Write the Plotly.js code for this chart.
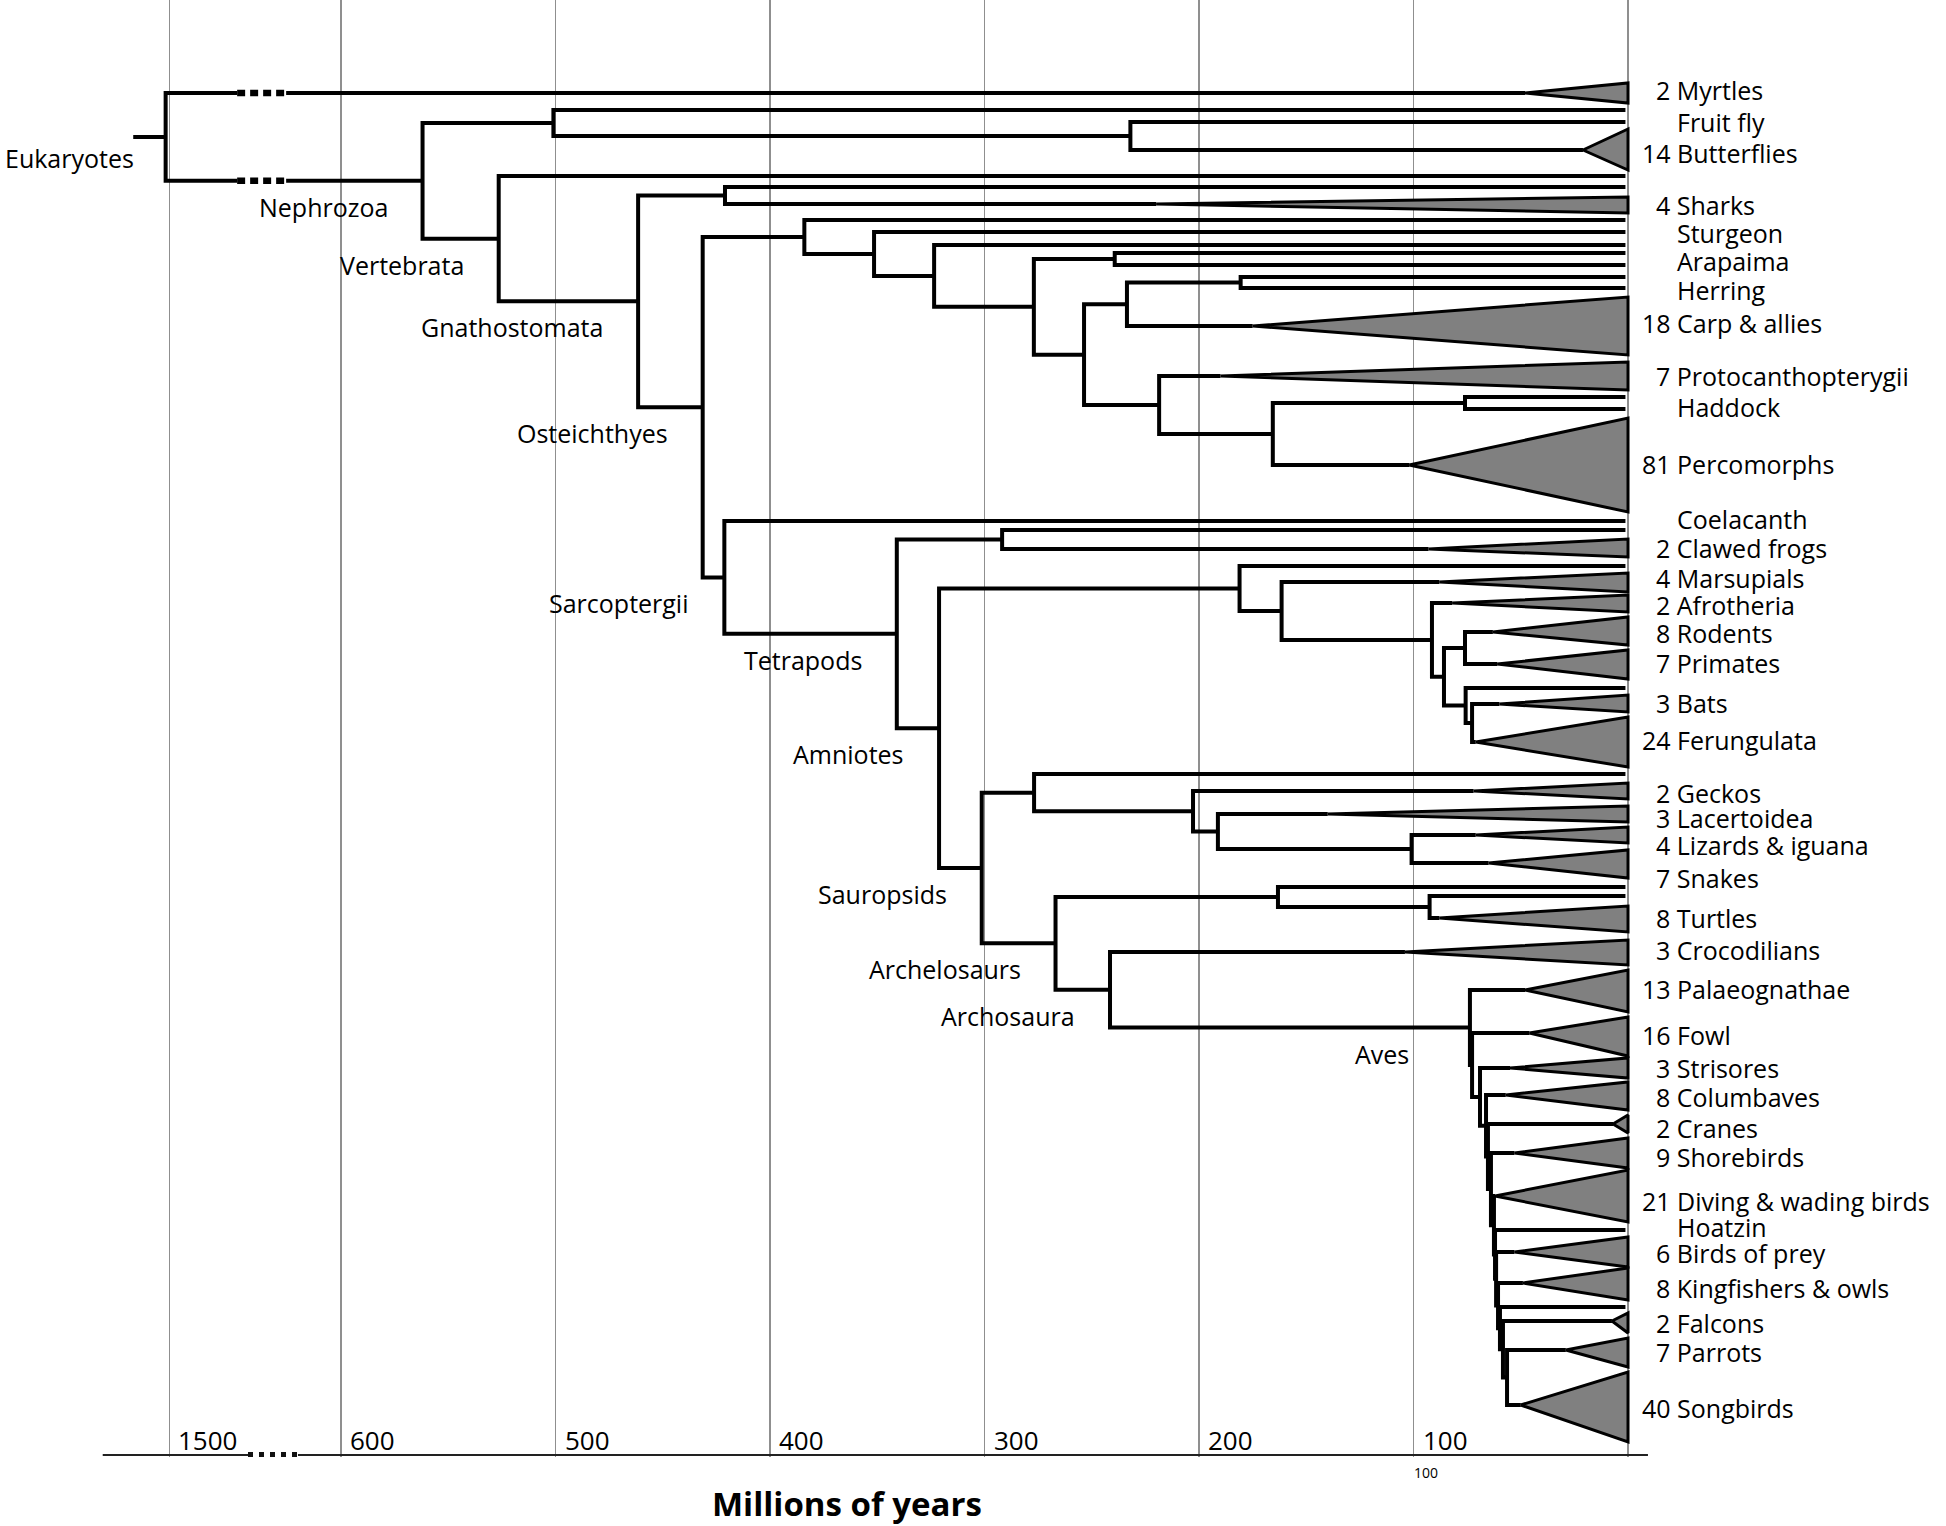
<!DOCTYPE html>
<html><head><meta charset="utf-8">
<script src="https://cdn.plot.ly/plotly-3.0.1.min.js"></script>
<style>html,body{margin:0;padding:0;background:#fff}</style>
</head><body><div id="chart" style="width:1946px;height:1526px"></div>
<script>
// ---------------- DATA ----------------
const tipIds = ['t01','t02','t03','t04','t05','t06','t07','t08','t09','t10','t11','t12','t13','t14','t15','t16','t17','t18','t19','t20','t21','t22','t23','t24','t25','t26','t27','t28','t29','t30','t31','t32','t33','t34','t35','t36','t37','t38','t39','t40','t41','t42','t43','t44','t45','t46','t47','t48','t49','t50','t51','t52','t53'];
const tipNames = ['Myrtles','','Fruit fly','Butterflies','','','Sharks','','Sturgeon','','','Arapaima','','Herring','Carp & allies','Protocanthopterygii','','Haddock','Percomorphs','Coelacanth','','Clawed frogs','','Marsupials','Afrotheria','Rodents','Primates','','Bats','Ferungulata','','Geckos','Lacertoidea','Lizards & iguana','Snakes','','','Turtles','Crocodilians','Palaeognathae','Fowl','Strisores','Columbaves','Cranes','Shorebirds','Diving & wading birds','Hoatzin','Birds of prey','Kingfishers & owls','','Falcons','Parrots','Songbirds'];
const tipCounts = [2,null,null,14,null,null,4,null,null,null,null,null,null,null,18,7,null,null,81,null,null,2,null,4,2,8,7,null,3,24,null,2,3,4,7,null,null,8,3,13,16,3,8,2,9,21,null,6,8,null,2,7,40];
// row of each tip (vertical order in the figure)
const tipRows = [93,110,122,150,176,187,204,220,232,245,253,265,277,288,326,376,397,409,465,521,530,549,566,582,603,632,664,688,704,742,774,791,814,835,863,887,896,918,952,990,1033,1068,1095,1124,1153,1196,1230,1252,1283,1307,1321,1350,1405];
const labelRows = [90,null,122,153,null,null,205,null,233,null,null,261,null,290,323,376,null,407,464,519,null,548,null,578,605,633,663,null,703,740,null,793,818,845,878,null,null,918,950,989,1035,1068,1097,1128,1157,1201,1227,1253,1288,null,1323,1352,1408];
// crown age (Myr) of collapsed clades (triangles); null = single lineage
const crownAges = [48,null,null,21,null,null,220,null,null,null,null,null,null,null,175,190,null,null,102,null,null,93,null,88,82,63,61,null,60,71,null,72,140,71,65,null,null,88,104,48,46,55,57,7,53,62,null,53,49,null,7.5,29,50];
const wedgeTopRows = [83,null,null,129,null,null,197,null,null,null,null,null,null,null,297,362,null,null,418,null,null,539,null,573,595,617,650,null,695,717,null,783,806,827,850,null,null,906,940,970,1017,1058,1082,1115,1138,1170,null,1237,1268,null,1313,1338,1372];
const wedgeBottomRows = [103,null,null,170,null,null,213,null,null,null,null,null,null,null,355,390,null,null,512,null,null,557,null,592,612,645,679,null,712,767,null,799,822,843,878,null,null,932,965,1012,1056,1078,1110,1133,1168,1222,null,1267,1300,null,1333,1367,1442];

const nodeIds = ['root','Nephrozoa','Protostomia','Insecta','Vertebrata','Gnathostomata','Chondrichthyes','Osteichthyes','Actinopterygii','Actinopteri','Neopterygii','Teleostei','Osteoglossomorpha','Clupeocephala','Otomorpha','Clupeiformes','Euteleostei','Neoteleostei','Gadiformes','Sarcopterygii','Tetrapoda','Amphibia','Amniota','Mammalia','Theria','Placentalia','Boreoeutheria','Euarchontoglires','Laurasiatheria','Scrotifera','Sauropsida','Lepidosauria','Squamata','Episquamata','Toxicofera','Archelosauria','Testudines','Cryptodira','Archosauria','Aves','Neognathae','Neoaves','N2','N3','N4','N5','N6','N7','N8','N9','N10','N11'];
const nodeAges = [1520,562,501,232,526.5,461.5,421,431.4,384,351.5,323.5,277,239.3,253.6,233.6,180.6,218.6,165.6,76,421.3,340.9,291.8,321.2,181.1,161.5,91.4,85.8,76,75.7,72.7,301.3,276.9,202.8,191.2,100.9,266.9,163.2,92.5,241.5,73.7,72.7,69.0,66.2,65.3,63.9,62.5,62.0,61.5,60.6,59.7,58.3,56.4];
const nodeChildren = [
 ['t01','Nephrozoa'],['Protostomia','Vertebrata'],['t02','Insecta'],['t03','t04'],['t05','Gnathostomata'],
 ['Chondrichthyes','Osteichthyes'],['t06','t07'],['Actinopterygii','Sarcopterygii'],['t08','Actinopteri'],['t09','Neopterygii'],
 ['t10','Teleostei'],['Osteoglossomorpha','Clupeocephala'],['t11','t12'],['Otomorpha','Euteleostei'],['Clupeiformes','t15'],
 ['t13','t14'],['t16','Neoteleostei'],['Gadiformes','t19'],['t17','t18'],['t20','Tetrapoda'],
 ['Amphibia','Amniota'],['t21','t22'],['Mammalia','Sauropsida'],['t23','Theria'],['t24','Placentalia'],
 ['t25','Boreoeutheria'],['Euarchontoglires','Laurasiatheria'],['t26','t27'],['t28','Scrotifera'],['t29','t30'],
 ['Lepidosauria','Archelosauria'],['t31','Squamata'],['t32','Episquamata'],['t33','Toxicofera'],['t34','t35'],
 ['Testudines','Archosauria'],['t36','Cryptodira'],['t37','t38'],['t39','Aves'],['t40','Neognathae'],
 ['t41','Neoaves'],['t42','N2'],['t43','N3'],['t44','N4'],['t45','N5'],['t46','N6'],['t47','N7'],['t48','N8'],
 ['t49','N9'],['t50','N10'],['t51','N11'],['t52','t53']
];
const cladeLabelNodes = ['root','Nephrozoa','Vertebrata','Gnathostomata','Osteichthyes','Sarcopterygii','Tetrapoda','Amniota','Sauropsida','Archelosauria','Archosauria','Aves'];
const cladeLabelTexts = ['Eukaryotes','Nephrozoa','Vertebrata','Gnathostomata','Osteichthyes','Sarcoptergii','Tetrapods','Amniotes','Sauropsids','Archelosaurs','Archosaura','Aves'];
const rootStemAge = 1690;
const tickAges = [1500,600,500,400,300,200,100,0];
const tickTexts = ['1500','600','500','400','300','200','100',''];
const axisTitle = 'Millions of years';

// ---------------- helpers ----------------
// broken time axis: 600..1500 Myr compressed
const disp = a => -(a <= 600 ? a : 600 + (a - 600) * 80 / 900);
const BREAK_FROM = 1145, BREAK_TO = 888;        // dashed break on the two basal branches (ages)
const AXIS_LEFT = 1850, AXIS_BREAK_A = 1088, AXIS_BREAK_B = 826, AXIS_ROW = 1455;
const TIP_END = 1.2;
const FONT = 'Open Sans, Noto Sans, sans-serif';
const FS = 25;
const PLOT_BOTTOM_ROW = 1457;
const rowToPaper = r => (PLOT_BOTTOM_ROW - r) / PLOT_BOTTOM_ROW;

const idx = {};
tipIds.forEach((id,i)=>idx[id]={tip:true,i});
nodeIds.forEach((id,i)=>idx[id]={tip:false,i});
const yCache = {};
function yOf(id){
  if (yCache[id] !== undefined) return yCache[id];
  const r = idx[id]; let v;
  if (r.tip) v = tipRows[r.i];
  else { const ch = nodeChildren[r.i]; v = (yOf(ch[0]) + yOf(ch[ch.length-1]))/2; }
  return (yCache[id] = v);
}
function endAge(id){
  const r = idx[id];
  if (r.tip) return crownAges[r.i] !== null ? crownAges[r.i] : TIP_END;
  return nodeAges[r.i];
}

// ---------------- branches ----------------
const bx = [], by = [], dx = [], dy = [];
function seg(xs, ys){ xs.forEach(v=>bx.push(v)); ys.forEach(v=>by.push(v)); bx.push(null); by.push(null); }
nodeIds.forEach((id,i)=>{
  const ch = nodeChildren[i];
  const a = nodeAges[i];
  const y0 = yOf(ch[0]), y1 = yOf(ch[ch.length-1]);
  if (id === 'root') {
    seg([disp(rootStemAge), disp(a)], [yOf('root'), yOf('root')]);
    seg([disp(BREAK_FROM), disp(a), disp(a), disp(BREAK_FROM)], [y0, y0, y1, y1]);
    ch.forEach(c=>{
      const yc = yOf(c);
      seg([disp(BREAK_TO), disp(endAge(c))], [yc, yc]);
      dx.push(disp(BREAK_FROM), disp(BREAK_TO), null); dy.push(yc, yc, null);
    });
  } else {
    seg([disp(endAge(ch[0])), disp(a), disp(a), disp(endAge(ch[ch.length-1]))], [y0, y0, y1, y1]);
  }
});

// ---------------- collapsed clades ----------------
const wx = [], wy = [];
tipIds.forEach((id,i)=>{
  if (crownAges[i] === null) return;
  wx.push(disp(crownAges[i]), disp(0), disp(0), disp(crownAges[i]), null);
  wy.push(tipRows[i], wedgeTopRows[i], wedgeBottomRows[i], tipRows[i], null);
});

const axisRightX = disp(0) + 9.3;
const data = [
  {type:'scatter', mode:'lines', x:wx, y:wy, fill:'toself', fillcolor:'#808080',
   line:{color:'#000', width:3}, hoverinfo:'skip'},
  {type:'scatter', mode:'lines', x:bx, y:by, line:{color:'#000', width:4}, hoverinfo:'skip'},
  {type:'scatter', mode:'lines', x:dx, y:dy, line:{color:'#000', width:6.5, dash:'8px,5px'}, hoverinfo:'skip'},
  // time axis line with break
  {type:'scatter', mode:'lines',
   x:[disp(AXIS_LEFT), disp(AXIS_BREAK_A), null, disp(AXIS_BREAK_B), axisRightX],
   y:[AXIS_ROW, AXIS_ROW, null, AXIS_ROW, AXIS_ROW], line:{color:'#222', width:2.2}, hoverinfo:'skip'},
  {type:'scatter', mode:'lines', x:[disp(AXIS_BREAK_A), disp(AXIS_BREAK_B)], y:[AXIS_ROW, AXIS_ROW],
   line:{color:'#111', width:6, dash:'5px,6px'}, hoverinfo:'skip'}
];

// ---------------- annotations ----------------
const ann = [];
// names start at a common left edge; the species count sits in front of the name
tipIds.forEach((id,i)=>{
  if (!tipNames[i]) return;
  const c = tipCounts[i];
  const lead = c === null ? 0 : (String(c).length * 0.572 + 0.26) * FS;
  const text = c === null ? tipNames[i] : c + ' ' + tipNames[i];
  ann.push({x:disp(0), y:labelRows[i], xref:'x', yref:'y', text:text, showarrow:false, borderpad:0,
    xanchor:'left', yanchor:'middle', xshift:48 - lead, font:{family:FONT, size:FS, color:'#000'}});
});
const labelShift = {root:[-31,-21], Aves:[-60,-27]};
cladeLabelNodes.forEach((id,k)=>{
  const s = labelShift[id] || [-34,-26];
  ann.push({x:disp(nodeAges[idx[id].i]), y:yOf(id), xref:'x', yref:'y', text:cladeLabelTexts[k], showarrow:false,
    borderpad:0, xanchor:'right', yanchor:'middle', xshift:s[0], yshift:s[1], font:{family:FONT, size:FS, color:'#000'}});
});
tickAges.forEach((a,k)=>{
  if (!tickTexts[k]) return;
  ann.push({x:disp(a), y:1440, xref:'x', yref:'y', text:tickTexts[k], showarrow:false, xanchor:'left', yanchor:'middle',
    borderpad:0, xshift:8, font:{family:FONT, size:26, color:'#000'}});
});
ann.push({x:disp(100), y:rowToPaper(1472), xref:'x', yref:'paper', text:'100', showarrow:false, xanchor:'center', yanchor:'middle',
  xshift:12, font:{family:FONT, size:14, color:'#000'}});
ann.push({x:disp(364), y:rowToPaper(1503), xref:'x', yref:'paper', text:axisTitle, showarrow:false, xanchor:'center', yanchor:'middle',
  borderpad:0, font:{family:FONT, size:33, color:'#000', weight:700}});

const layout = {
  width:1946, height:1526, showlegend:false,
  paper_bgcolor:'#fff', plot_bgcolor:'#fff',
  margin:{l:0, r:0, t:0, b:1526 - PLOT_BOTTOM_ROW, pad:0},
  xaxis:{range:[-759.0, 148.25], tickvals:tickAges.map(disp), ticktext:tickTexts, showticklabels:false,
    showgrid:true, gridcolor:'#8f8f8f', gridwidth:1.5, zeroline:false, showline:false, ticks:'', fixedrange:true},
  yaxis:{range:[PLOT_BOTTOM_ROW, 0], visible:false, fixedrange:true},
  annotations:ann
};
Plotly.newPlot('chart', data, layout, {staticPlot:true, displayModeBar:false});
</script></body></html>
